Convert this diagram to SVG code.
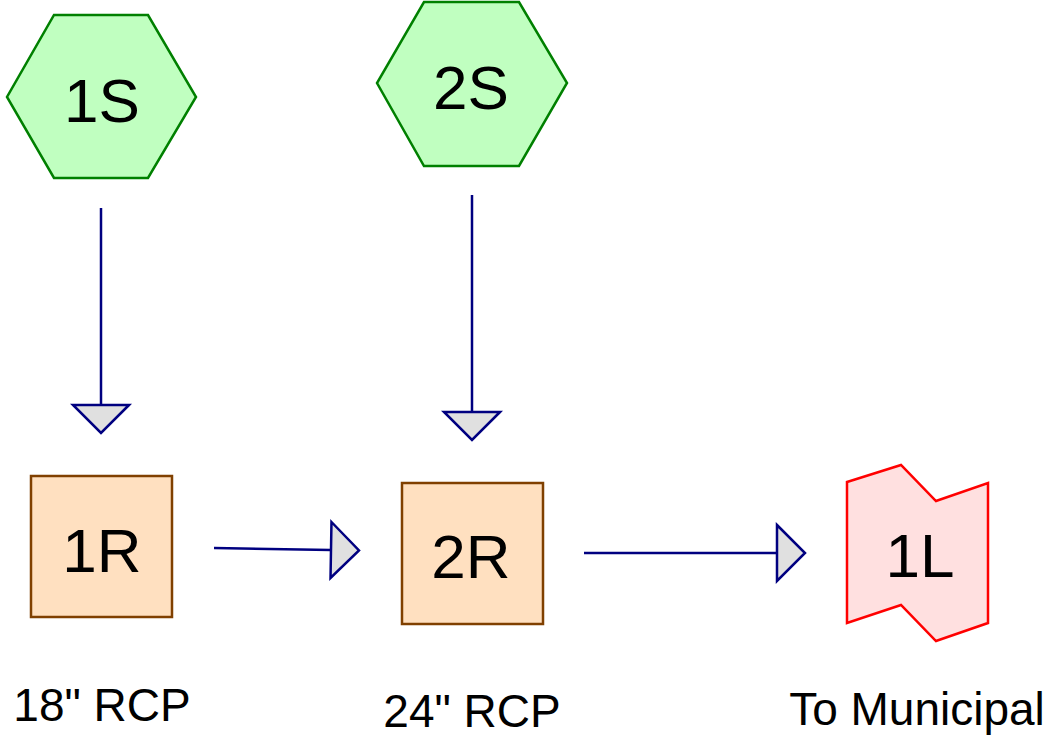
<svg xmlns="http://www.w3.org/2000/svg" width="1057" height="740" viewBox="0 0 1057 740">
  <defs>
    <style>
      .lbl { font-family: "Liberation Sans", Arial, sans-serif; fill: #000; text-anchor: middle; }
      .node-text { font-size: 62px; }
      .caption { font-size: 46px; }
      .source { fill: #c0ffc0; stroke: #008000; stroke-width: 2.5; }
      .pipe { fill: #ffe0c0; stroke: #804000; stroke-width: 2.5; }
      .outlet { fill: #ffe0e0; stroke: #ff0000; stroke-width: 2.5; }
      .edge { fill: none; stroke: #000080; stroke-width: 2.5; marker-end: url(#tri); }
    </style>
    <marker id="tri" markerUnits="userSpaceOnUse" markerWidth="40" markerHeight="64" refX="2" refY="32" orient="auto" overflow="visible">
      <path d="M2,4 L30,32 L2,60 Z" fill="#e0e0e0" stroke="#000080" stroke-width="2.5" stroke-linejoin="miter"/>
    </marker>
  </defs>

  <rect width="1057" height="740" fill="#ffffff"/>

  <!-- connectors -->
  <g id="edges">
    <line class="edge" x1="101" y1="208" x2="101" y2="405"/>
    <line class="edge" x1="472" y1="195" x2="472" y2="412"/>
    <line class="edge" x1="214" y1="548" x2="331" y2="550"/>
    <line class="edge" x1="584" y1="553" x2="777" y2="553"/>
  </g>

  <!-- storage nodes -->
  <g id="node-1S">
    <polygon class="source" points="54,15 148,15 196,97 148,178 54,178 7,97"/>
    <text class="lbl node-text" x="102" y="122">1S</text>
  </g>
  <g id="node-2S">
    <polygon class="source" points="424,2 519,2 567,83 519,166 424,166 377,83"/>
    <text class="lbl node-text" x="471" y="109">2S</text>
  </g>

  <!-- pipe nodes -->
  <g id="node-1R">
    <rect class="pipe" x="31" y="476" width="141" height="141"/>
    <text class="lbl node-text" x="102" y="572">1R</text>
  </g>
  <g id="node-2R">
    <rect class="pipe" x="402" y="483" width="141" height="141"/>
    <text class="lbl node-text" x="471" y="578">2R</text>
  </g>

  <!-- outlet node -->
  <g id="node-1L">
    <polygon class="outlet" points="847,482 901,465 936,501 988,483 988,623 936,641 901,605 847,623"/>
    <text class="lbl node-text" x="920" y="577">1L</text>
  </g>

  <!-- captions -->
  <g id="captions">
    <text class="lbl caption" x="102" y="721">18" RCP</text>
    <text class="lbl caption" x="472" y="727">24" RCP</text>
    <text class="lbl caption" x="917" y="725">To Municipal</text>
  </g>
</svg>
